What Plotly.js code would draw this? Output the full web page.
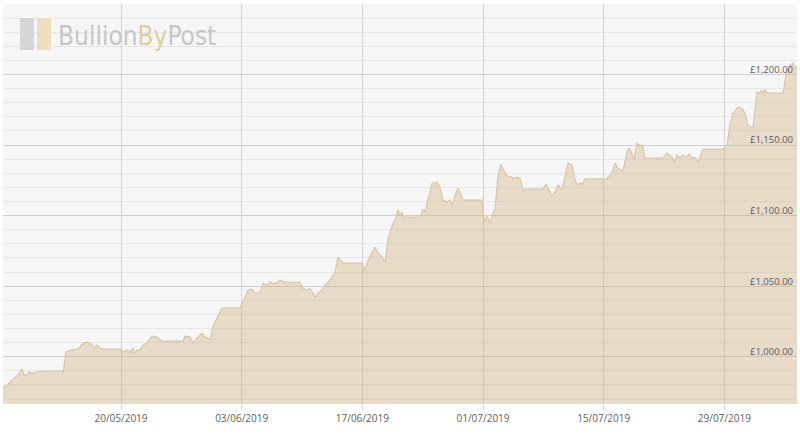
<!DOCTYPE html>
<html>
<head>
<meta charset="utf-8">
<script src="https://cdn.plot.ly/plotly-3.0.1.min.js"></script>
<style>
  html, body { margin: 0; padding: 0; background: #ffffff; }
  #chart { width: 800px; height: 436px; }
</style>
</head>
<body>
<div id="chart"></div>
<script>
// Gold price in GBP (per troy ounce)
const dates = [
  "2019-05-06 07:25","2019-05-06 18:33","2019-05-07 08:30","2019-05-07 16:51","2019-05-08 01:12",
  "2019-05-08 12:20","2019-05-08 17:54","2019-05-09 02:15","2019-05-09 07:49","2019-05-09 16:10",
  "2019-05-10 06:06","2019-05-10 22:48","2019-05-13 03:43","2019-05-13 06:30","2019-05-13 14:51",
  "2019-05-14 02:00","2019-05-14 21:29","2019-05-15 05:50","2019-05-15 14:11","2019-05-16 01:19",
  "2019-05-16 09:40","2019-05-16 15:14","2019-05-16 20:49","2019-05-17 05:10","2019-05-17 13:32",
  "2019-05-17 19:06","2019-05-19 21:13","2019-05-20 05:34","2019-05-20 16:42","2019-05-21 01:04",
  "2019-05-21 09:25","2019-05-21 12:12","2019-05-21 20:33","2019-05-22 04:54","2019-05-22 13:16",
  "2019-05-23 00:24","2019-05-23 14:20","2019-05-24 04:15","2019-05-24 18:10","2019-05-27 04:38",
  "2019-05-27 10:13","2019-05-28 00:08","2019-05-28 08:29","2019-05-28 19:38","2019-05-29 09:33",
  "2019-05-29 17:54","2019-05-30 02:15","2019-05-30 07:49","2019-05-30 16:10","2019-05-31 03:18",
  "2019-05-31 17:14","2019-06-02 19:22","2019-06-03 03:43","2019-06-03 17:38","2019-06-04 04:46",
  "2019-06-04 13:07","2019-06-05 03:02","2019-06-05 11:24","2019-06-05 22:32","2019-06-06 06:53",
  "2019-06-06 15:14","2019-06-07 02:23","2019-06-07 10:45","2019-06-08 00:40","2019-06-09 18:26",
  "2019-06-10 02:47","2019-06-10 13:55","2019-06-10 22:16","2019-06-11 06:37","2019-06-11 12:12",
  "2019-06-11 20:34","2019-06-12 07:42","2019-06-12 16:03","2019-06-13 00:24","2019-06-13 11:33",
  "2019-06-13 19:54","2019-06-14 04:15","2019-06-14 15:23","2019-06-14 18:10","2019-06-16 23:05",
  "2019-06-17 07:26","2019-06-17 15:47","2019-06-18 11:17","2019-06-18 19:38","2019-06-19 06:46",
  "2019-06-19 15:07","2019-06-19 23:28","2019-06-20 05:02","2019-06-20 13:23","2019-06-20 18:58",
  "2019-06-21 03:19","2019-06-21 08:53","2019-06-21 14:27","2019-06-21 17:14","2019-06-23 16:35",
  "2019-06-24 00:56","2019-06-24 06:30","2019-06-24 14:51","2019-06-25 02:00","2019-06-25 15:55",
  "2019-06-26 00:16","2019-06-26 08:37","2019-06-26 19:45","2019-06-27 04:06","2019-06-27 09:42",
  "2019-06-27 18:02","2019-06-28 02:24","2019-06-28 13:32","2019-06-28 16:19","2019-06-30 21:13",
  "2019-07-01 00:00","2019-07-01 05:34","2019-07-01 11:10","2019-07-01 19:31","2019-07-02 03:52",
  "2019-07-02 09:26","2019-07-02 17:47","2019-07-03 02:08","2019-07-03 07:42","2019-07-03 18:50",
  "2019-07-04 08:46","2019-07-04 11:33","2019-07-04 22:41","2019-07-05 07:02","2019-07-05 15:23",
  "2019-07-05 23:40","2019-07-07 23:05","2019-07-08 07:26","2019-07-08 13:00","2019-07-09 00:08",
  "2019-07-09 08:29","2019-07-09 16:50","2019-07-10 03:59","2019-07-10 12:20","2019-07-10 20:41",
  "2019-07-11 07:49","2019-07-11 16:10","2019-07-11 21:45","2019-07-12 14:27","2019-07-12 20:02",
  "2019-07-14 22:09","2019-07-15 06:30","2019-07-15 12:04","2019-07-15 23:13","2019-07-16 07:34",
  "2019-07-16 15:55","2019-07-17 05:50","2019-07-17 16:58","2019-07-17 22:32","2019-07-18 06:55",
  "2019-07-18 12:29","2019-07-18 20:50","2019-07-19 05:11","2019-07-19 13:32","2019-07-19 19:06",
  "2019-07-21 21:14","2019-07-22 08:23","2019-07-22 22:18","2019-07-23 03:52","2019-07-23 12:13",
  "2019-07-23 20:34","2019-07-24 04:55","2019-07-24 16:03","2019-07-24 21:37","2019-07-25 05:58",
  "2019-07-25 14:19","2019-07-25 22:41","2019-07-26 12:36","2019-07-28 20:18","2019-07-29 07:26",
  "2019-07-29 15:47","2019-07-30 00:09","2019-07-30 14:04","2019-07-31 01:12","2019-07-31 09:33",
  "2019-07-31 17:54","2019-08-01 05:02","2019-08-01 07:49","2019-08-01 13:23","2019-08-01 18:58",
  "2019-08-02 00:32","2019-08-02 08:53","2019-08-02 11:41","2019-08-02 17:15","2019-08-02 22:49",
  "2019-08-04 19:22","2019-08-05 03:43","2019-08-05 14:51","2019-08-05 23:12","2019-08-06 04:46",
  "2019-08-06 10:21"
];
const prices = [
  978.5, 979.3, 983.5, 985.6, 987.0,
  991.3, 987.0, 987.0, 989.1, 988.4,
  989.1, 989.8, 989.8, 988.4, 1003.3,
  1004.7, 1005.4, 1006.8, 1009.7, 1010.4,
  1009.7, 1008.3, 1006.1, 1008.3, 1006.1,
  1005.4, 1005.4, 1003.3, 1004.7, 1003.3,
  1006.1, 1002.6, 1004.7, 1004.7, 1008.3,
  1009.7, 1014.6, 1013.9, 1011.1, 1011.1,
  1014.6, 1013.9, 1009.7, 1013.2, 1016.7,
  1013.9, 1013.2, 1011.8, 1021.7, 1027.3,
  1034.4, 1034.4, 1039.4, 1047.1, 1047.8,
  1045.0, 1045.7, 1052.1, 1050.7, 1052.8,
  1052.1, 1052.1, 1054.3, 1052.8, 1052.8,
  1048.5, 1047.1, 1048.5, 1045.0, 1042.2,
  1045.0, 1047.1, 1050.7, 1052.8, 1056.4,
  1059.9, 1070.6, 1067.7, 1066.3, 1066.3,
  1061.4, 1068.4, 1077.6, 1073.4, 1070.6,
  1067.0, 1082.6, 1088.3, 1094.6, 1096.7,
  1103.9, 1100.3, 1102.5, 1098.9, 1098.9,
  1104.6, 1102.5, 1111.0, 1123.0, 1123.7,
  1120.2, 1111.0, 1109.6, 1111.0, 1107.4,
  1114.5, 1119.5, 1113.1, 1111.0, 1111.0,
  1102.5, 1095.3, 1099.6, 1094.6, 1101.8,
  1103.9, 1128.7, 1136.5, 1132.9, 1128.0,
  1127.3, 1125.9, 1127.3, 1126.6, 1118.1,
  1118.8, 1118.8, 1122.3, 1119.5, 1113.8,
  1116.6, 1121.6, 1118.1, 1127.3, 1137.2,
  1135.8, 1125.2, 1122.3, 1123.0, 1126.0,
  1126.0, 1125.2, 1127.3, 1130.1, 1137.2,
  1133.6, 1131.5, 1145.0, 1147.8, 1144.3,
  1139.3, 1151.3, 1149.9, 1148.5, 1140.7,
  1140.7, 1144.3, 1141.4, 1137.9, 1142.8,
  1140.7, 1142.8, 1141.4, 1143.6, 1140.7,
  1141.4, 1137.9, 1147.1, 1147.1, 1149.9,
  1164.8, 1172.6, 1176.8, 1176.1, 1172.6,
  1164.1, 1162.0, 1162.7, 1174.7, 1187.5,
  1186.8, 1188.9, 1185.4, 1189.6, 1186.8,
  1186.8, 1199.5, 1206.6, 1208.0, 1204.5,
  1205.9
];
const yTickVals = [1000, 1050, 1100, 1150, 1200];
const yTickText = ["\u00a31,000.00", "\u00a31,050.00", "\u00a31,100.00", "\u00a31,150.00", "\u00a31,200.00"];
const yRange = [966.5, 1250];
const xTick0 = "2019-05-20";
const xTickFormat = "%d/%m/%Y";

// chart area geometry (pixels)
const M = {l: 3, r: 3, t: 4, b: 32};
const W = 800, H = 436;
const pw = W - M.l - M.r, ph = H - M.t - M.b;
const px = v => (v - M.l) / pw;          // pixel x -> paper
const py = v => (H - M.b - v) / ph;      // pixel y -> paper

const trace = {
  x: dates,
  y: prices,
  type: "scatter",
  mode: "lines",
  line: {color: "#d8c6a4", width: 1.2, shape: "linear"},
  fill: "tozeroy",
  fillcolor: "rgba(208,175,122,0.37)",
  hoverinfo: "skip"
};

const layout = {
  width: W, height: H,
  margin: M,
  paper_bgcolor: "#ffffff",
  plot_bgcolor: "#f6f6f6",
  showlegend: false,
  xaxis: {
    type: "date",
    range: [dates[0], dates[dates.length - 1]],
    tick0: xTick0,
    dtick: 14 * 86400000,
    tickformat: xTickFormat,
    showgrid: true,
    gridcolor: "#d2d2d2",
    gridwidth: 1,
    ticks: "outside",
    ticklen: 5,
    tickcolor: "#d2d2d2",
    tickfont: {family: "Open Sans, sans-serif", size: 10, color: "#606060"},
    showline: false,
    zeroline: false,
    fixedrange: true
  },
  yaxis: {
    range: yRange,
    side: "right",
    tickmode: "array",
    tickvals: yTickVals,
    ticktext: yTickText,
    ticklabelposition: "inside",
    ticklabelshift: -5,
    ticklabelstandoff: 1,
    ticks: "",
    showgrid: true,
    gridcolor: "#cfcfcf",
    gridwidth: 1,
    minor: {tick0: 1000, dtick: 10, showgrid: true, gridcolor: "#e6e6e6", gridwidth: 1, ticks: ""},
    tickfont: {family: "Open Sans, sans-serif", size: 9.5, color: "#5a5a5a"},
    showline: false,
    zeroline: false,
    fixedrange: true
  },
  shapes: [
    {type: "rect", xref: "paper", yref: "paper", x0: px(20), x1: px(34), y0: py(50), y1: py(18),
     fillcolor: "#d6d6d6", line: {width: 0}, layer: "above"},
    {type: "rect", xref: "paper", yref: "paper", x0: px(37), x1: px(51), y0: py(50), y1: py(18),
     fillcolor: "#eddfbd", line: {width: 0}, layer: "above"}
  ],
  annotations: [
    {xref: "paper", yref: "paper", x: px(56), y: py(36), xanchor: "left", yanchor: "middle",
     showarrow: false,
     text: "Bullion<span style=\"color:#e2cd9c\">By</span>Post",
     font: {family: "DejaVu Sans Condensed, sans-serif", size: 26, color: "#c6c6c6", weight: 300}}
  ]
};

Plotly.newPlot("chart", [trace], layout, {staticPlot: true, displayModeBar: false});
</script>
</body>
</html>
